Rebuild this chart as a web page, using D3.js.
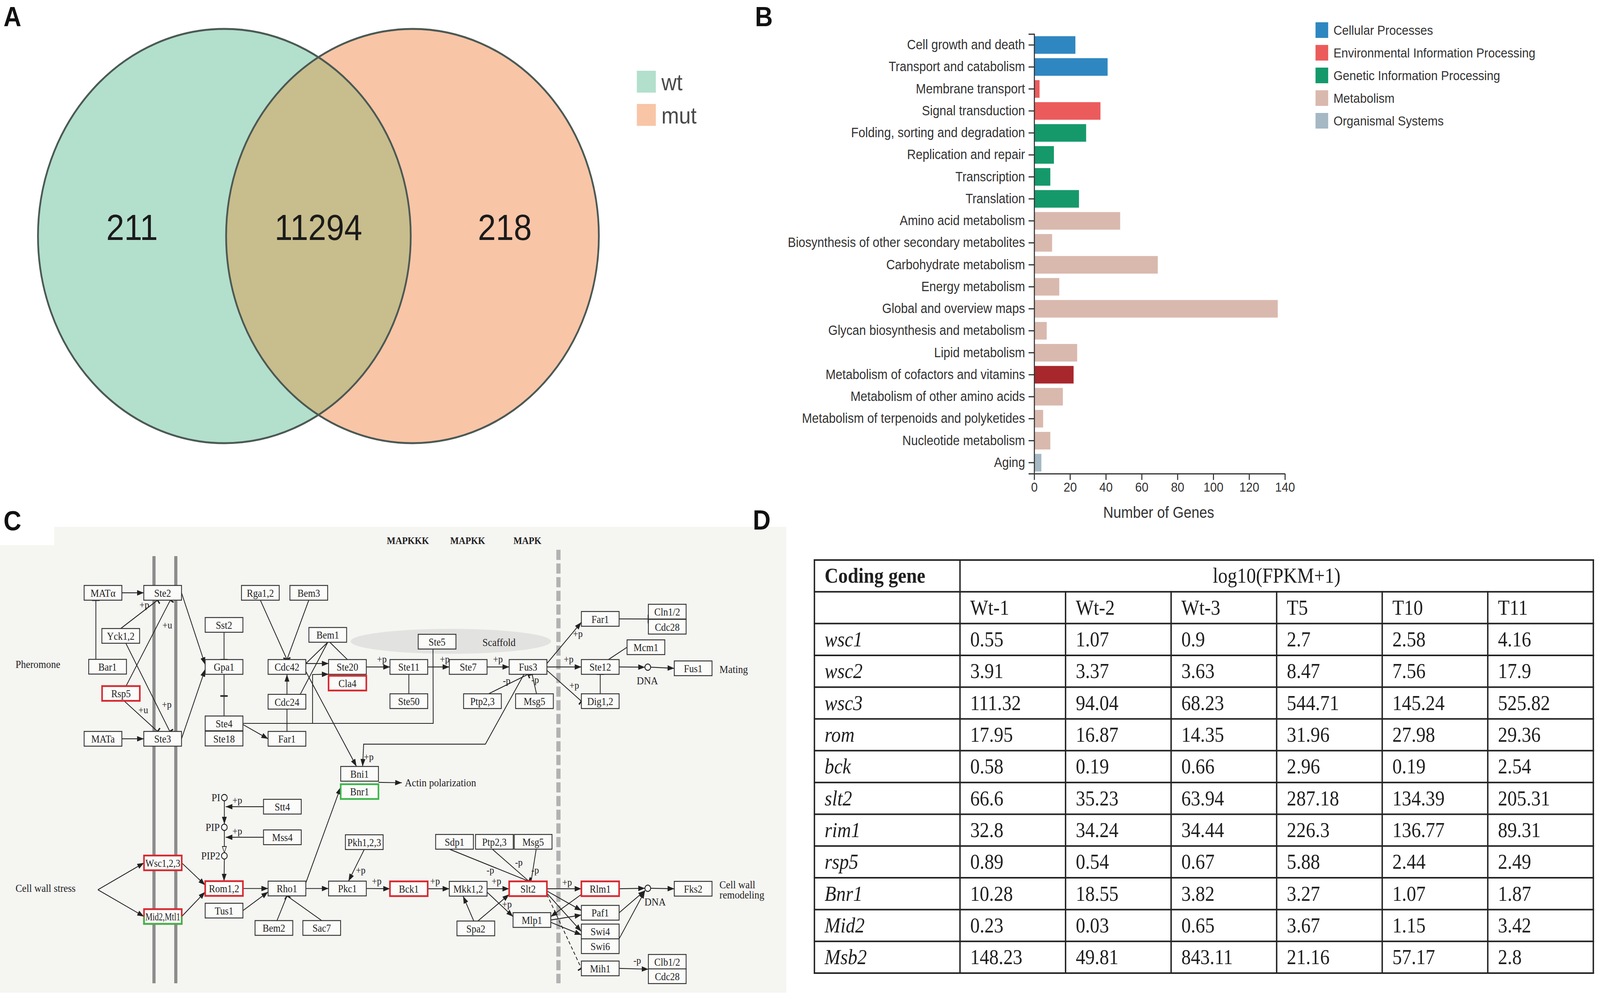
<!DOCTYPE html>
<html>
<head>
<meta charset="utf-8">
<script src="https://cdn.jsdelivr.net/npm/d3@7"></script>
<style>
  html, body { margin: 0; padding: 0; background: #fff; overflow: hidden; }
  svg { display: block; width: 100vw; height: 100vh; }
</style>
</head>
<body>
<div id="fig"></div>
<script>
// ---------- panel A : venn ----------
const vennSets = ["wt", "mut"];
const vennCounts = [211, 11294, 218];   // wt only, both, mut only
const vennColors = ["#b3dfcd", "#f8c5a7"];

// ---------- panel B : KEGG classification ----------
const keggCategories = [
  "Cell growth and death", "Transport and catabolism", "Membrane transport", "Signal transduction",
  "Folding, sorting and degradation", "Replication and repair", "Transcription", "Translation",
  "Amino acid metabolism", "Biosynthesis of other secondary metabolites", "Carbohydrate metabolism",
  "Energy metabolism", "Global and overview maps", "Glycan biosynthesis and metabolism",
  "Lipid metabolism", "Metabolism of cofactors and vitamins", "Metabolism of other amino acids",
  "Metabolism of terpenoids and polyketides", "Nucleotide metabolism", "Aging"
];
const keggClass = [0, 0, 1, 1, 2, 2, 2, 2, 3, 3, 3, 3, 3, 3, 3, 3, 3, 3, 3, 4];
const keggCounts = [23, 41, 3, 37, 29, 11, 9, 25, 48, 10, 69, 14, 136, 7, 24, 22, 16, 5, 9, 4];
const classNames = ["Cellular Processes", "Environmental Information Processing",
  "Genetic Information Processing", "Metabolism", "Organismal Systems"];
const classColors = ["#2f87c1", "#ec5b5c", "#15996b", "#d9b9ae", "#a5b8c4"];
const highlightCategory = "Metabolism of cofactors and vitamins";
const highlightColor = "#a8272c";
const xTicks = [0, 20, 40, 60, 80, 100, 120, 140];

// ---------- panel C : MAPK pathway (map units) ----------
const pathNodes = [
  ["MATal", "MATα", 101, 61], ["Ste2", "Ste2", 159.5, 61], ["Yck", "Yck1,2", 118.4, 99],
  ["Bar1", "Bar1", 105.5, 126.2], ["Rsp5", "Rsp5", 118.6, 149.8, "r"], ["MATa", "MATa", 101, 189.8],
  ["Ste3", "Ste3", 159.5, 189.8], ["Sst2", "Sst2", 219.7, 89.3], ["Gpa1", "Gpa1", 219.7, 126.4],
  ["Ste4", "Ste4", 219.7, 176.2], ["Ste18", "Ste18", 219.7, 189.6], ["Rga", "Rga1,2", 255.3, 61],
  ["Bem3", "Bem3", 302.8, 61], ["Bem1", "Bem1", 321.4, 98.1], ["Cdc42", "Cdc42", 281.4, 126.4],
  ["Cdc24", "Cdc24", 281.4, 157.1], ["Far1L", "Far1", 281.4, 189.8], ["Ste20", "Ste20", 340.7, 126.4],
  ["Cla4", "Cla4", 340.7, 140.7, "r"], ["Bni1", "Bni1", 352.6, 220.7], ["Bnr1", "Bnr1", 352.6, 236.4, "g"],
  ["Stt4", "Stt4", 276.9, 249.7], ["Mss4", "Mss4", 276.9, 276.7], ["Wsc", "Wsc1,2,3", 159.7, 299.3, "r"],
  ["Mid2", "Mid2,Mtl1", 159.7, 346.6, "rg"], ["Rom", "Rom1,2", 219.7, 321.9, "r"],
  ["Tus1", "Tus1", 219.7, 341.4], ["Rho1", "Rho1", 281.4, 321.9], ["Bem2", "Bem2", 268.6, 356.7],
  ["Sac7", "Sac7", 315.5, 356.7], ["Pkh", "Pkh1,2,3", 357.2, 281], ["Pkc1", "Pkc1", 340.7, 321.9],
  ["Ste5", "Ste5", 428.6, 104.1], ["Ste11", "Ste11", 400.9, 126.4], ["Ste50", "Ste50", 400.9, 156.6],
  ["Ste7", "Ste7", 459.1, 126.4], ["Fus3", "Fus3", 517.8, 126.4], ["PtpU", "Ptp2,3", 473.1, 156.6],
  ["Msg5U", "Msg5", 524.1, 156.6], ["Far1R", "Far1", 588.6, 84], ["Cln", "Cln1/2", 654.3, 77.6],
  ["Cdc28U", "Cdc28", 654.3, 90.9], ["Mcm1", "Mcm1", 633.4, 109], ["Ste12", "Ste12", 588.6, 126.4],
  ["Dig", "Dig1,2", 588.6, 156.6], ["Fus1", "Fus1", 679.7, 127.6], ["Sdp1", "Sdp1", 445.7, 280.7],
  ["PtpL", "Ptp2,3", 484.8, 280.7], ["Msg5L", "Msg5", 522.8, 280.7], ["Bck1", "Bck1", 400.9, 322.1, "r"],
  ["Mkk", "Mkk1,2", 459.1, 322.1], ["Slt2", "Slt2", 517.8, 322.1, "r"], ["Spa2", "Spa2", 466.6, 357.1],
  ["Mlp1", "Mlp1", 521.6, 349.7], ["Rlm1", "Rlm1", 588.6, 322.1, "r"], ["Paf1", "Paf1", 588.6, 343.3],
  ["Swi4", "Swi4", 588.6, 359.8], ["Swi6", "Swi6", 588.6, 372.8], ["Mih1", "Mih1", 588.6, 392.4],
  ["Fks2", "Fks2", 679.7, 322.1], ["Clb", "Clb1/2", 654.3, 386.6], ["Cdc28L", "Cdc28", 654.3, 399.3]
];
const pathCompounds = [
  ["PI", "PI", 220, 241.7], ["PIP", "PIP", 220, 267.9], ["PIP2", "PIP2", 220, 293.1],
  ["DNA1", "", 635.2, 126.6], ["DNA2", "", 635.2, 321.7]
];
// [points, kind, label] kind: a arrow, i inhibition, l line, o open arrow, d dashed inhibition
const pathEdges = [
  [["MATal.r", "Ste2.l"], "a"], [["MATa.r", "Ste3.l"], "a"], [["Bar1.t-11.5", "MATal.b-7"], "i"],
  [["Yck.t", "Ste2.b-5"], "i", ["+p", -13, 4]], [["Rsp5.t+5", "Ste2.b+7.5"], "i", ["+u", -3, 22]],
  [["Yck.b+5", "Ste3.t+7"], "i", ["+p", -3, -24]], [["Rsp5.b+3", "Ste3.t-5"], "i", ["+u", -14, -19]],
  [["Ste2.r", "Gpa1.l-2"], "a"], [["Ste3.r", "Gpa1.l+2"], "a"], [["Sst2.b", "Gpa1.t"], "i"],
  [["Gpa1.b", [219.7, 152]], "i"], [[[219.7, 152], "Ste4.t"], "l"], [["Ste4.r+1", "Far1L.l"], "a"],
  [["Far1L.t", "Cdc24.b"], "l"], [["Cdc24.t", "Cdc42.b"], "a"], [["Rga.b", "Cdc42.t"], "i"],
  [["Bem3.b", "Cdc42.t"], "i"], [["Cdc42.r-3", "Ste20.l-3"], "a"], [["Bem1.b", "Cdc42.r-3"], "l"],
  [["Bem1.b", "Cdc24.t+13"], "l"], [["Bem1.b+2", "Ste20.t"], "l"],
  [["Ste4.r", [424.8, 176.2], "Ste5.b-4"], "l"], [[[306.5, 176.2], [306.5, 133.1], "Ste20.l+6.4"], "a"],
  [["Cdc42.r+4", "Bni1.t-3"], "a"], [["Ste20.r", "Ste11.l"], "a", ["+p", -8, -7]],
  [["Ste11.r", "Ste7.l"], "a", ["+p", -4.5, -7]], [["Ste7.r", "Fus3.l"], "a", ["+p", -11, -7]],
  [["Ste11.b", "Ste50.t"], "l"], [["Fus3.r-3", "Far1R.l+3"], "a", ["+p", -3.5, 10]],
  [["Fus3.r", "Ste12.l"], "a", ["+p", -12.5, -7]], [["Fus3.r+3", "Dig.l"], "i", ["+p", -7, -14]],
  [["PtpU.t+6", "Fus3.b"], "i", ["-p", -21, 5.4]], [["Msg5U.t+2", "Fus3.b+4"], "i", ["-p", 3, 4.7]],
  [["Fus3.b-4", [476, 194.5], [356.6, 194.5], "Bni1.t+3"], "a", ["+p", 6, -8.7]],
  [["Far1R.r", "Cln.l+6.5"], "i"], [["Mcm1.l", "Ste12.t+8"], "l"], [["Dig.t", "Ste12.b"], "i"],
  [["Ste12.r", "DNA1.l"], "a"], [["DNA1.r", "Fus1.l"], "a"], [["Bni1.r+7.5", [394, 228.6]], "a"],
  [["PI.b", "PIP.t"], "a"], [["PIP.b", "PIP2.t"], "o"],
  [["Stt4.l", [221.3, 249.7]], "a", ["+p", 11.4, -6]], [["Mss4.l", [221.3, 276.7]], "a", ["+p", 11.4, -5.7]],
  [["PIP2.b", "Rom.t"], "a"], [[[96, 323], "Wsc.l"], "a"], [[[96, 323], "Mid2.l"], "a"],
  [["Wsc.r", "Rom.l-3"], "a"], [["Mid2.r", "Rom.l+3"], "a"], [["Rom.r", "Rho1.l"], "a"],
  [["Tus1.r", "Rho1.l+3"], "a"], [["Bem2.t+3", "Rho1.b"], "i"], [["Sac7.t", "Rho1.b"], "i"],
  [["Rho1.r-5", "Bnr1.l-4"], "a"], [["Rho1.r", "Pkc1.l"], "a"], [["Pkh.b", "Pkc1.t+1"], "a", ["+p", 12, -10]],
  [["Pkc1.r", "Bck1.l"], "a", ["+p", -13, -7]], [["Bck1.r", "Mkk.l"], "a", ["+p", -14, -7]],
  [["Mkk.r", "Slt2.l"], "a", ["+p", -12.5, -7]], [["Mkk.r+3", "Mlp1.l-3"], "a", ["+p", -6, -11]],
  [["Spa2.t-2", "Mkk.b-5"], "a"], [["Spa2.t+2", "Slt2.l+5"], "a"],
  [["Sdp1.b-5", "Slt2.t+1"], "i", ["-p", -38, -10]], [["PtpL.b-2", "Slt2.t+1"], "i", ["-p", -10, -17]],
  [["Msg5L.b+3", "Slt2.t+3"], "i", ["-p", 4, -10]], [["Slt2.r", "Rlm1.l"], "a", ["+p", -14, -6]],
  [["Slt2.r+2", "Paf1.l-2"], "a"], [["Slt2.r+4", "Swi4.l"], "a"], [["Slt2.r+5", "Mih1.l"], "d"],
  [["Mlp1.r", "Paf1.l+2"], "a"], [["Mlp1.r+2", "Swi4.l+3"], "a"], [["Rlm1.l+5", "Mlp1.r-3"], "a"],
  [["Rlm1.r", "DNA2.l"], "a"], [["DNA2.r", "Fks2.l"], "a"], [["Paf1.r", "DNA2.l+2"], "a"],
  [["Swi6.r-6.5", "DNA2.l+2.5"], "a"], [["Mih1.r", "Clb.l+6.5"], "a", ["-p", -11, -8]]
];
const pathTexts = [
  ["Pheromone", 15.2, 124.1, "start"], ["Cell wall stress", 15.2, 321.7, "start"],
  ["Actin polarization", 396.9, 228.6, "start"], ["Mating", 705.5, 128.6, "start"],
  ["Cell wall", 705.5, 318.6, "start"], ["remodeling", 705.5, 327.4, "start"],
  ["DNA", 634.8, 138.3, "middle"], ["DNA", 642.4, 333.8, "middle"], ["Scaffold", 489.3, 104.8, "middle"],
  ["PI", 216, 241.7, "end"], ["PIP", 215.5, 267.9, "end"], ["PIP2", 216, 293.1, "end"]
];
const kinaseLevels = [["MAPKKK", 400], ["MAPKK", 458.6], ["MAPK", 517.2]];

// ---------- panel D : expression table ----------
const genes = ["wsc1", "wsc2", "wsc3", "rom", "bck", "slt2", "rim1", "rsp5", "Bnr1", "Mid2", "Msb2"];
const samples = ["Wt-1", "Wt-2", "Wt-3", "T5", "T10", "T11"];
const fpkm = [
  [0.55, 1.07, 0.9, 2.7, 2.58, 4.16],
  [3.91, 3.37, 3.63, 8.47, 7.56, 17.9],
  [111.32, 94.04, 68.23, 544.71, 145.24, 525.82],
  [17.95, 16.87, 14.35, 31.96, 27.98, 29.36],
  [0.58, 0.19, 0.66, 2.96, 0.19, 2.54],
  [66.6, 35.23, 63.94, 287.18, 134.39, 205.31],
  [32.8, 34.24, 34.44, 226.3, 136.77, 89.31],
  [0.89, 0.54, 0.67, 5.88, 2.44, 2.49],
  [10.28, 18.55, 3.82, 3.27, 1.07, 1.87],
  [0.23, 0.03, 0.65, 3.67, 1.15, 3.42],
  [148.23, 49.81, 843.11, 21.16, 57.17, 2.8]
];

const SANS = "'Liberation Sans', Arial, sans-serif";
const SERIF = "'Liberation Serif', 'Times New Roman', serif";

// fixed 4550x2546 drawing space stretched over the whole window
const svg = d3.select("#fig").append("svg")
  .attr("viewBox", "0 0 4550 2546")
  .attr("preserveAspectRatio", "none");
svg.append("rect").attr("width", 4550).attr("height", 2546).attr("fill", "#fff");
const defs = svg.append("defs");

// panel letters
const letters = [["A", 10, 67], ["B", 2147, 67], ["C", 10, 1357], ["D", 2141, 1355]];

// ================= A =================
const vx = d3.scaleLinear().domain([0, 1]).range([638, 1173]);
const vr = 530, vcy = 604;
defs.append("clipPath").attr("id", "clipWt")
  .append("circle").attr("cx", vx(0)).attr("cy", vcy).attr("r", vr);

const gA = svg.append("g");
gA.selectAll("circle.set").data(vennSets).join("circle")
  .attr("class", "set")
  .attr("cx", (d, i) => vx(i)).attr("cy", vcy).attr("r", vr)
  .attr("fill", (d, i) => vennColors[i]);
gA.append("circle")
  .attr("cx", vx(1)).attr("cy", vcy).attr("r", vr)
  .attr("clip-path", "url(#clipWt)")
  .attr("fill", "#c8bd8c");
gA.selectAll("circle.edge").data(vennSets).join("circle")
  .attr("class", "edge")
  .attr("cx", (d, i) => vx(i)).attr("cy", vcy).attr("r", vr)
  .attr("fill", "none").attr("stroke", "#4b5954").attr("stroke-width", 5);

const countX = [
  (vx(0) - vr + vx(1) - vr) / 2,
  (vx(1) - vr + vx(0) + vr) / 2,
  (vx(0) + vr + vx(1) + vr) / 2
];
gA.selectAll("text.count").data(vennCounts).join("text")
  .attr("class", "count")
  .attr("x", (d, i) => countX[i]).attr("y", 614)
  .attr("text-anchor", "middle")
  .style("font-family", SANS).style("font-size", "92px").attr("fill", "#1b1b1b")
  .text(d => d);

const legA = gA.selectAll("g.leg").data(vennSets).join("g")
  .attr("class", "leg")
  .attr("transform", (d, i) => `translate(1811, ${181 + i * 85})`);
legA.append("rect").attr("width", 54).attr("height", 56).attr("fill", (d, i) => vennColors[i]);
legA.append("text").attr("x", 70).attr("y", 50)
  .style("font-family", SANS).style("font-size", "60px").attr("fill", "#4a4a4a")
  .text(d => d);

// ================= B =================
const gB = svg.append("g");
const xB = d3.scaleLinear().domain([0, 140]).range([2941, 3654]);
const yB = d3.scaleBand().domain(keggCategories).range([87, 1212]).paddingInner(0.2).paddingOuter(0.1);

gB.selectAll("rect.bar").data(keggCategories).join("rect")
  .attr("class", "bar")
  .attr("x", xB(0))
  .attr("y", d => yB(d))
  .attr("width", (d, i) => xB(keggCounts[i]) - xB(0))
  .attr("height", yB.bandwidth())
  .attr("fill", (d, i) => d === highlightCategory ? highlightColor : classColors[keggClass[i]]);

const yAxisB = gB.append("g")
  .attr("transform", `translate(${xB(0)},0)`)
  .call(d3.axisLeft(yB).tickSize(16).tickSizeOuter(16).tickPadding(10));
const xAxisB = gB.append("g")
  .attr("transform", `translate(0,${1212})`)
  .call(d3.axisBottom(xB).tickValues(xTicks).tickSize(16).tickSizeOuter(0).tickPadding(6));
[yAxisB, xAxisB].forEach(ax => {
  ax.selectAll("path, line").attr("stroke", "#333").attr("stroke-width", 3);
  ax.selectAll("text").style("font-family", SANS).attr("fill", "#333");
});
yAxisB.selectAll("text").style("font-size", "34.5px");
xAxisB.selectAll("text").style("font-size", "34px");

gB.append("text")
  .attr("x", 3295).attr("y", 1325)
  .attr("text-anchor", "middle")
  .style("font-family", SANS).style("font-size", "40px").attr("fill", "#333")
  .text("Number of Genes");

const legB = gB.selectAll("g.leg").data(classNames).join("g")
  .attr("class", "leg")
  .attr("transform", (d, i) => `translate(3741, ${57 + i * 58})`);
legB.append("rect").attr("width", 36).attr("height", 40).attr("fill", (d, i) => classColors[i]);
legB.append("text").attr("x", 51).attr("y", 32)
  .style("font-family", SANS).style("font-size", "34px").attr("fill", "#333")
  .text(d => d);

// ================= C =================
const cx = d3.scaleLinear().domain([0, 770]).range([0, 2233]);
const cy = d3.scaleLinear().domain([0, 410]).range([1340, 2529]);
const BW = 37, BH = 13, CR = 2.8;
const gC = svg.append("g");

gC.append("rect").attr("x", 0).attr("y", 1348).attr("width", 2236).attr("height", 1192).attr("fill", "#f5f5f2");
gC.append("rect").attr("x", 0).attr("y", 1300).attr("width", 154).attr("height", 95).attr("fill", "#fff");

// membrane and nucleus border
gC.selectAll("line.membrane").data([151, 172.4]).join("line")
  .attr("class", "membrane")
  .attr("x1", d => cx(d)).attr("x2", d => cx(d))
  .attr("y1", cy(28.6)).attr("y2", cy(405.5))
  .attr("stroke", "#8c8c8c").attr("stroke-width", 9);
gC.append("line")
  .attr("x1", cx(547.6)).attr("x2", cx(547.6)).attr("y1", cy(23)).attr("y2", cy(405.5))
  .attr("stroke", "#b2b2b2").attr("stroke-width", 12).attr("stroke-dasharray", "26 9");
gC.append("ellipse")
  .attr("cx", cx(442.1)).attr("cy", cy(103.8))
  .attr("rx", cx(98.3) - cx(0)).attr("ry", cy(11) - cy(0))
  .attr("fill", "#e2e2e0");

const nodeById = new Map();
pathNodes.forEach(n => nodeById.set(n[0], { id: n[0], label: n[1], x: n[2], y: n[3], hl: n[4] || "", w: BW, h: BH }));
pathCompounds.forEach(c => nodeById.set(c[0], { id: c[0], label: c[1], x: c[2], y: c[3], w: 2 * CR, h: 2 * CR }));

function anchor(spec) {
  if (Array.isArray(spec)) return spec;
  const m = spec.match(/^([A-Za-z0-9]+)\.([lrtb])([+-][\d.]+)?$/);
  const n = nodeById.get(m[1]);
  const off = m[3] ? +m[3] : 0;
  if (m[2] === "l") return [n.x - n.w / 2, n.y + off];
  if (m[2] === "r") return [n.x + n.w / 2, n.y + off];
  if (m[2] === "t") return [n.x + off, n.y - n.h / 2];
  return [n.x + off, n.y + n.h / 2];
}

// markers
const mk = (id, w, h, vb, refX, refY) => defs.append("marker")
  .attr("id", id).attr("viewBox", vb).attr("refX", refX).attr("refY", refY)
  .attr("markerWidth", w).attr("markerHeight", h)
  .attr("markerUnits", "userSpaceOnUse").attr("orient", "auto")
  .attr("preserveAspectRatio", "none");
mk("arr", 19, 14, "0 0 10 10", 10, 5).append("path").attr("d", "M0,0L10,5L0,10Z").attr("fill", "#222");
mk("open", 19, 14, "-1 -1 12 12", 10, 5).append("path").attr("d", "M0,0L10,5L0,10Z")
  .attr("fill", "#f5f5f2").attr("stroke", "#222").attr("stroke-width", 1.3);
mk("bar", 4, 22, "0 0 4 20", 2, 10).append("rect").attr("width", 4).attr("height", 20).attr("fill", "#222");

const lineGen = d3.line().x(d => cx(d[0])).y(d => cy(d[1]));
const gEdges = gC.append("g");
pathEdges.forEach(([pts, kind, lab]) => {
  const p = pts.map(anchor);
  const path = gEdges.append("path")
    .attr("d", lineGen(p))
    .attr("fill", "none").attr("stroke", "#222").attr("stroke-width", 2.2);
  if (kind === "a") path.attr("marker-end", "url(#arr)");
  if (kind === "o") path.attr("marker-end", "url(#open)");
  if (kind === "i") path.attr("marker-end", "url(#bar)");
  if (kind === "d") path.attr("marker-end", "url(#bar)").attr("stroke-dasharray", "9 6");
  if (lab) {
    const e = p[p.length - 1];
    gEdges.append("text")
      .attr("x", cx(e[0] + lab[1])).attr("y", cy(e[1] + lab[2]))
      .attr("text-anchor", "middle").attr("dominant-baseline", "central")
      .style("font-family", SERIF).style("font-size", "26px").attr("fill", "#222")
      .text(lab[0]);
  }
});

// gene boxes
const boxes = gC.selectAll("g.node").data(pathNodes.map(n => nodeById.get(n[0]))).join("g")
  .attr("class", "node")
  .attr("transform", d => `translate(${cx(d.x - BW / 2)},${cy(d.y - BH / 2)})`);
const bw = cx(BW) - cx(0), bh = cy(BH) - cy(0);
boxes.append("rect")
  .attr("width", bw).attr("height", bh)
  .attr("fill", "#fbfbf9")
  .attr("stroke", d => d.hl === "r" || d.hl === "rg" ? "#d7282e" : d.hl === "g" ? "#3db54a" : "#333")
  .attr("stroke-width", d => d.hl ? 4.5 : 2.4);
boxes.filter(d => d.hl === "rg").append("path")
  .attr("d", `M0,${bh / 2}V${bh}H${bw}V${bh / 2}`)
  .attr("fill", "none").attr("stroke", "#3db54a").attr("stroke-width", 4.5);
boxes.append("text")
  .attr("x", bw / 2).attr("y", bh / 2 + 1)
  .attr("text-anchor", "middle").attr("dominant-baseline", "central")
  .style("font-family", SERIF).style("font-size", "27px").attr("fill", "#222")
  .text(d => d.label)
  .each(function () {
    if (this.getComputedTextLength() > bw - 8) {
      d3.select(this).attr("textLength", bw - 8).attr("lengthAdjust", "spacingAndGlyphs");
    }
  });

// compounds
gC.selectAll("circle.cpd").data(pathCompounds).join("circle")
  .attr("class", "cpd")
  .attr("cx", d => cx(d[2])).attr("cy", d => cy(d[3]))
  .attr("r", cx(CR) - cx(0))
  .attr("fill", "#fbfbf9").attr("stroke", "#222").attr("stroke-width", 2.4);

gC.selectAll("text.lbl").data(pathTexts).join("text")
  .attr("class", "lbl")
  .attr("x", d => cx(d[1])).attr("y", d => cy(d[2]))
  .attr("text-anchor", d => d[3]).attr("dominant-baseline", "central")
  .style("font-family", SERIF).style("font-size", "28px").attr("fill", "#222")
  .text(d => d[0]);
gC.selectAll("text.kin").data(kinaseLevels).join("text")
  .attr("class", "kin")
  .attr("x", d => cx(d[1])).attr("y", cy(14.8))
  .attr("text-anchor", "middle").attr("dominant-baseline", "central")
  .style("font-family", SERIF).style("font-size", "26px").style("font-weight", "bold").attr("fill", "#222")
  .text(d => d[0]);

// ================= D =================
const gD = svg.append("g");
const tX0 = 2316, tX1 = 2730, tX2 = 4531;
const rowY = d3.scaleBand().domain(d3.range(genes.length + 2)).range([1433, 2490]);
const colX = d3.scaleBand().domain(samples).range([tX1, tX2]);
const tTop = rowY.range()[0], tBot = rowY.range()[1];
const FS = 54, pad = 29, base = FS * 0.33;

gD.selectAll("line.h").data(d3.range(genes.length + 3)).join("line")
  .attr("class", "h")
  .attr("x1", tX0).attr("x2", tX2)
  .attr("y1", i => i < genes.length + 2 ? rowY(i) : tBot)
  .attr("y2", i => i < genes.length + 2 ? rowY(i) : tBot);
gD.selectAll("line.v").data([tX0, tX1, tX2]).join("line")
  .attr("class", "v")
  .attr("x1", d => d).attr("x2", d => d).attr("y1", tTop).attr("y2", tBot);
gD.selectAll("line.vc").data(samples.slice(1)).join("line")
  .attr("class", "vc")
  .attr("x1", d => colX(d)).attr("x2", d => colX(d)).attr("y1", rowY(1)).attr("y2", tBot);
gD.selectAll("line").attr("stroke", "#222").attr("stroke-width", 4).attr("stroke-linecap", "square");

const tText = (x, y, t, anchorPos = "start") => gD.append("text")
  .attr("x", x).attr("y", y).attr("text-anchor", anchorPos)
  .style("font-family", SERIF).style("font-size", FS + "px").attr("fill", "#1f1f1f")
  .text(t);
const rowMid = i => rowY(i) + rowY.bandwidth() / 2 + base;

tText(tX0 + pad, rowMid(0), "Coding gene").style("font-weight", "bold");
tText((tX1 + tX2) / 2, rowMid(0), "log10(FPKM+1)", "middle");
samples.forEach(s => tText(colX(s) + pad, rowMid(1), s));
genes.forEach((g, r) => {
  tText(tX0 + pad, rowMid(r + 2), g).style("font-style", "italic");
  samples.forEach((s, c) => tText(colX(s) + pad, rowMid(r + 2), String(fpkm[r][c])));
});

// panel letters on top
svg.selectAll("text.letter").data(letters).join("text")
  .attr("class", "letter")
  .attr("x", d => d[1]).attr("y", d => d[2])
  .style("font-family", SANS).style("font-size", "70px").style("font-weight", "bold")
  .attr("fill", "#111")
  .text(d => d[0]);
</script>
</body>
</html>
